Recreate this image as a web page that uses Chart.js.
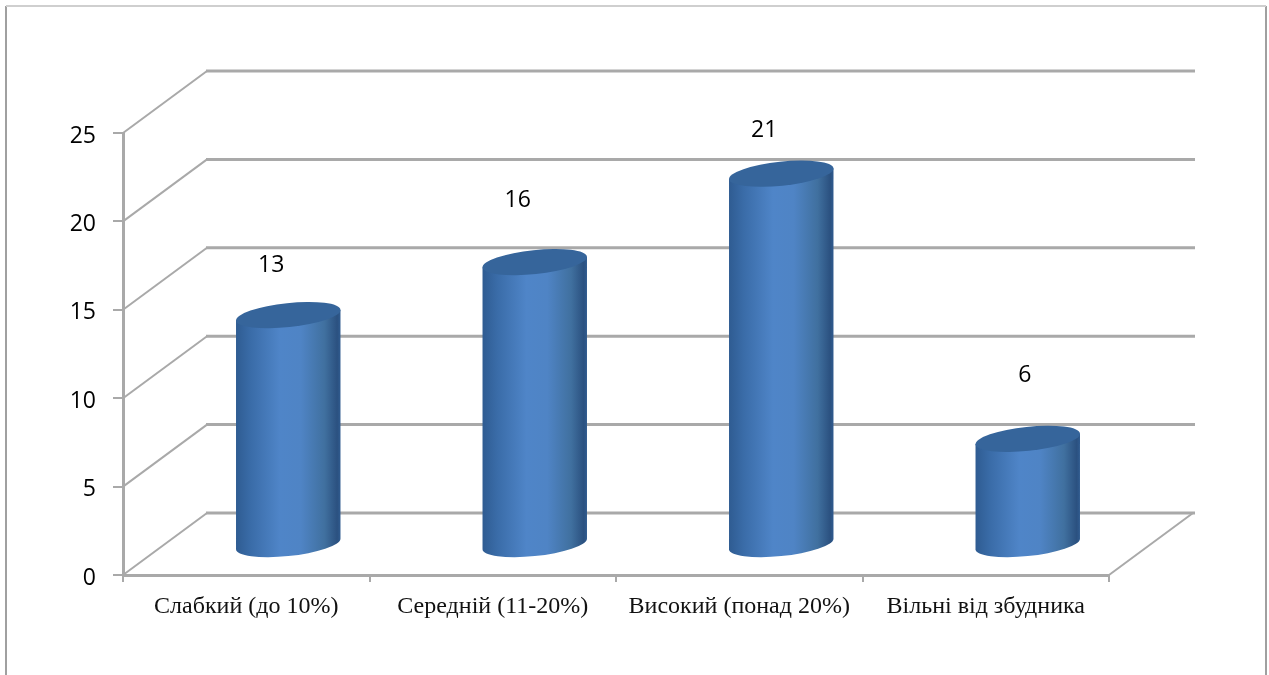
<!DOCTYPE html>
<html lang="uk">
<head>
<meta charset="utf-8">
<title>Chart</title>
<style>
  html, body { margin: 0; padding: 0; background: #fff; overflow: hidden; }
  canvas { display: block; }
</style>
<script src="https://cdn.jsdelivr.net/npm/chart.js@4"></script>
</head>
<body>
<canvas id="chart" width="1269" height="675"></canvas>
<script>
const categories = ['Слабкий (до 10%)', 'Середній (11-20%)', 'Високий (понад 20%)', 'Вільні від збудника'];
const values = [13, 16, 21, 6];

// nudges for the value labels, relative to the top of each cylinder
const labelShiftX = [-17, -17, -17, -3];
const labelShiftY = [-50, -62, -43, -63];

const lineColor = '#a9a9a9';
const wallDx = 84, wallDy = -62;   // front axis -> back wall
const barDx = 42, barDy = -30;     // cylinders stand in the middle of the floor
const capRx = 52.5, capRy = 12, capTilt = -6 * Math.PI / 180;

function line(ctx, x1, y1, x2, y2) {
    ctx.beginPath();
    ctx.moveTo(x1, y1);
    ctx.lineTo(x2, y2);
    ctx.stroke();
}

// outer frame and the back wall / floor of the 3D box
const boxPlugin = {
    id: 'box',
    beforeDatasetsDraw(chart) {
        const { ctx, chartArea, scales } = chart;
        ctx.save();
        ctx.strokeStyle = '#a0a0a0';
        ctx.lineWidth = 2;
        line(ctx, 6, 6, 6, 675);
        line(ctx, 1266, 6, 1266, 675);
        ctx.strokeStyle = '#cfcfcf';
        line(ctx, 6, 6, 1266, 6);

        scales.y.ticks.forEach(tick => {
            const y = scales.y.getPixelForValue(tick.value);
            ctx.strokeStyle = lineColor;
            ctx.lineWidth = 2;
            line(ctx, chartArea.left, y, chartArea.left + wallDx, y + wallDy);
            ctx.lineWidth = 3;
            line(ctx, chartArea.left + wallDx - 1, y + wallDy, chartArea.right + wallDx + 2, y + wallDy);
        });
        ctx.lineWidth = 2;
        ctx.strokeStyle = lineColor;
        line(ctx, chartArea.right, chartArea.bottom, chartArea.right + wallDx, chartArea.bottom + wallDy);
        ctx.restore();
    }
};

// side silhouette: straight edges leave the tilted ellipses at their x extremes
function drawBody(ctx, x, top, bottom) {
    const t0 = Math.atan(-(capRy / capRx) * Math.tan(capTilt));
    const ex = capRx * Math.cos(t0) * Math.cos(capTilt) - capRy * Math.sin(t0) * Math.sin(capTilt);
    const ey = capRx * Math.cos(t0) * Math.sin(capTilt) + capRy * Math.sin(t0) * Math.cos(capTilt);
    ctx.beginPath();
    ctx.moveTo(x - ex, top - ey);
    ctx.lineTo(x - ex, bottom - ey);
    ctx.ellipse(x, bottom, capRx, capRy, capTilt, t0 + Math.PI, t0, true);
    ctx.lineTo(x + ex, top + ey);
    ctx.closePath();
    ctx.fill();
}

function drawCap(ctx, x, y) {
    ctx.beginPath();
    ctx.ellipse(x, y, capRx, capRy, capTilt, 0, Math.PI * 2);
    ctx.fill();
}

// cylinders are painted over the (transparent) bar elements
const cylinderPlugin = {
    id: 'cylinders',
    afterDatasetsDraw(chart) {
        const { ctx } = chart;
        chart.getDatasetMeta(0).data.forEach((bar, i) => {
            const x = bar.x + barDx;
            const top = bar.y + barDy;
            const bottom = bar.base + barDy;
            const halfW = bar.width / 2;

            const body = ctx.createLinearGradient(x - halfW, 0, x + halfW, 0);
            body.addColorStop(0, '#2f5c92');
            body.addColorStop(0.14, '#3a6ca8');
            body.addColorStop(0.42, '#4f85c8');
            body.addColorStop(0.62, '#4f84c5');
            body.addColorStop(0.85, '#40709f');
            body.addColorStop(0.97, '#2b5180');
            body.addColorStop(1, '#2f5a8e');

            ctx.save();
            ctx.fillStyle = body;
            drawBody(ctx, x, top, bottom);
            ctx.fillStyle = '#36659b';
            drawCap(ctx, x, top);

            ctx.fillStyle = '#000';
            ctx.font = '23px "Open Sans"';
            ctx.textAlign = 'center';
            ctx.textBaseline = 'middle';
            ctx.fillText(String(values[i]), x + labelShiftX[i], top + labelShiftY[i]);
            ctx.restore();
        });
    }
};

new Chart(document.getElementById('chart'), {
    type: 'bar',
    data: {
        labels: categories,
        datasets: [{
            data: values,
            backgroundColor: 'transparent',
            barThickness: 104
        }]
    },
    options: {
        responsive: false,
        animation: false,
        layout: { padding: { top: 133, right: 160, left: 0, bottom: 0 } },
        plugins: {
            legend: { display: false },
            title: { display: false },
            tooltip: { enabled: false }
        },
        scales: {
            x: {
                afterFit(scale) { scale.height = 100; },
                grid: { drawOnChartArea: false, color: lineColor, lineWidth: 2, tickLength: 7 },
                border: { color: lineColor, width: 3 },
                ticks: {
                    color: '#111',
                    padding: 10,
                    maxRotation: 0,
                    font: { family: '"Liberation Serif"', size: 24 }
                }
            },
            y: {
                min: 0,
                max: 25,
                afterFit(scale) { scale.width = 123; },
                grid: { drawOnChartArea: false, color: lineColor, lineWidth: 2, tickLength: 10 },
                border: { color: lineColor, width: 3 },
                ticks: {
                    stepSize: 5,
                    color: '#000',
                    padding: 17,
                    labelOffset: 3,
                    font: { family: '"Open Sans"', size: 23 }
                }
            }
        }
    },
    plugins: [boxPlugin, cylinderPlugin]
});
</script>
</body>
</html>
